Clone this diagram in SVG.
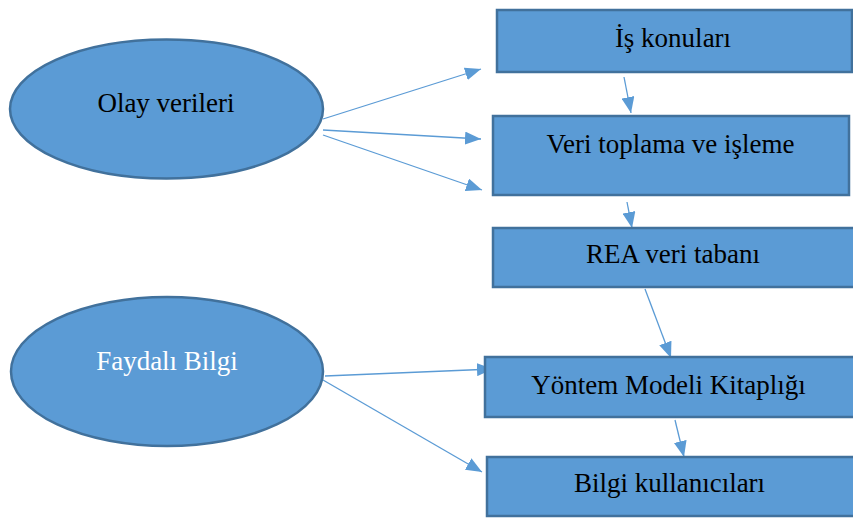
<svg xmlns="http://www.w3.org/2000/svg" width="853" height="518" viewBox="0 0 853 518">
<style>
.n{fill:#5B9BD5;stroke:#41719C;stroke-width:2.5}
.t{font-family:"Liberation Serif","Times New Roman",serif;font-size:27px;fill:#000;text-anchor:middle}
.w{fill:#fff}
.c{stroke:#5B9BD5;stroke-width:1.3;fill:none;marker-end:url(#ah)}
</style>
<defs>
<marker id="ah" markerUnits="userSpaceOnUse" viewBox="0 0 16 13" markerWidth="16" markerHeight="13" refX="16" refY="6.5" orient="auto">
<path d="M0,0 L16,6.5 L0,13 z" fill="#5B9BD5"/>
</marker>
</defs>
<rect width="853" height="518" fill="#fff"/>
<g id="connectors">
<line class="c" x1="323" y1="119" x2="481" y2="69"/>
<line class="c" x1="323" y1="130" x2="481" y2="139"/>
<line class="c" x1="323" y1="135" x2="482" y2="190"/>
<line class="c" x1="624" y1="77" x2="631" y2="113"/>
<line class="c" x1="627" y1="202" x2="632" y2="228"/>
<line class="c" x1="645" y1="289" x2="671" y2="358"/>
<line class="c" x1="675" y1="420" x2="684" y2="457"/>
<line class="c" x1="325" y1="376" x2="493" y2="369"/>
<line class="c" x1="323" y1="380" x2="482" y2="472"/>
</g>
<g id="olay">
<ellipse class="n" cx="166.5" cy="109" rx="156.5" ry="69.5"/>
<text class="t" x="166" y="112">Olay verileri</text>
</g>
<g id="faydali">
<ellipse class="n" cx="167" cy="371.5" rx="156" ry="74.5"/>
<text class="t w" x="167" y="370">Faydalı Bilgi</text>
</g>
<g id="is">
<rect class="n" x="497" y="10" width="355" height="62"/>
<text class="t" x="673" y="47">İş konuları</text>
</g>
<g id="veri">
<rect class="n" x="493" y="116" width="356" height="79"/>
<text class="t" x="670.5" y="153">Veri toplama ve işleme</text>
</g>
<g id="rea">
<rect class="n" x="493" y="228" width="362" height="59"/>
<text class="t" x="673" y="263">REA veri tabanı</text>
</g>
<g id="yontem">
<rect class="n" x="485" y="357" width="370" height="60"/>
<text class="t" x="668.5" y="394">Yöntem Modeli Kitaplığı</text>
</g>
<g id="bilgi">
<rect class="n" x="487" y="457" width="368" height="59"/>
<text class="t" x="669.5" y="492">Bilgi kullanıcıları</text>
</g>
</svg>
